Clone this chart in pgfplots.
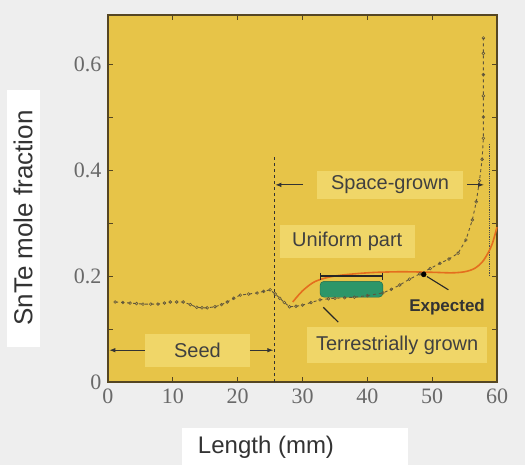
\documentclass[border=0pt]{standalone}
\usepackage{pgfplots}
\pgfplotsset{compat=1.18}
\usepackage{fontspec}
\setmainfont{Liberation Sans}
\newfontfamily\tickfont{Liberation Serif}
\usetikzlibrary{arrows.meta}
\definecolor{bg}{RGB}{238,238,238}
\definecolor{plotbg}{RGB}{231,196,72}
\definecolor{boxy}{RGB}{240,214,104}
\definecolor{frame}{RGB}{85,70,35}
\definecolor{meas}{RGB}{95,85,60}
\definecolor{orng}{RGB}{228,110,30}
\definecolor{grn}{RGB}{45,150,105}
\definecolor{tickgray}{RGB}{105,105,105}
\begin{document}
\begin{tikzpicture}
\fill[bg] (0pt,0pt) rectangle (525pt,-465pt);
\useasboundingbox (0pt,0pt) rectangle (525pt,-465pt);
\fill[white] (7pt,-90pt) rectangle (40pt,-347pt);
\fill[white] (182pt,-428pt) rectangle (408pt,-465pt);
\node[rotate=90, font=\fontsize{26}{28}\selectfont, text=black!80] at (23pt,-218pt) {SnTe mole fraction};
\node[font=\fontsize{24}{26}\selectfont, text=black!80] at (266pt,-447pt) {Length (mm)};
\begin{axis}[
  at={(108pt,-382pt)}, anchor=south west,
  scale only axis, width=389pt, height=367pt,
  xmin=0, xmax=60, ymin=0, ymax=0.6925,
  axis background/.style={fill=plotbg},
  axis line style={frame, line width=1.6pt},
  xtick={0,10,...,60}, ytick={0,0.2,0.4,0.6}, minor ytick={0.1,0.3,0.5},
  tick style={frame, line width=0.8pt},
  major tick length=5pt, minor tick length=5pt,
  tick align=inside, xtick pos=both, ytick pos=both,
  /pgf/number format/assume math mode=true,
  tick label style={font=\tickfont\fontsize{22}{24}\selectfont, text=tickgray},
  yticklabel style={/pgf/number format/fixed, xshift=-3pt},
  xticklabel style={yshift=-3pt},
  clip=false,
]
% lighter label boxes
\node[fill=boxy, minimum width=105pt, minimum height=33pt, inner sep=0pt, font=\fontsize{20}{22}\selectfont, text=black!75] at (axis cs:13.8,0.06) {Seed};
\node[fill=boxy, minimum width=146pt, minimum height=28pt, inner sep=0pt, font=\fontsize{20}{22}\selectfont, text=black!75] at (axis cs:43.5,0.372) {Space-grown};
\node[fill=boxy, minimum width=135pt, minimum height=33pt, inner sep=0pt, font=\fontsize{20}{22}\selectfont, text=black!75] at (axis cs:36.9,0.265) {Uniform part};
\node[fill=boxy, minimum width=180pt, minimum height=36pt, inner sep=0pt, font=\fontsize{20}{22}\selectfont, text=black!75] at (axis cs:44.6,0.070) {Terrestrially grown};
% boundaries
\addplot[black!80, dashed, line width=0.8pt] coordinates {(25.6,0) (25.6,0.43)};
\addplot[black!70, densely dotted, line width=0.8pt] coordinates {(58.9,0.20) (58.9,0.45)};
% seed arrows
\addplot[black!80, line width=0.9pt, -{Latex[length=6pt]}] coordinates {(5.7,0.06) (0.2,0.06)};
\addplot[black!80, line width=0.9pt, -{Latex[length=6pt]}] coordinates {(21.9,0.06) (25.5,0.06)};
% space-grown arrows
\addplot[black!80, line width=0.9pt, -{Latex[length=6pt]}] coordinates {(30.1,0.372) (25.8,0.372)};
\addplot[black!80, line width=0.9pt, -{Latex[length=6pt]}] coordinates {(55.4,0.372) (58.0,0.372)};
% green uniform region
\addplot[fill=grn, draw=grn!70!black, rounded corners=4pt] coordinates {(32.7,0.160) (42.4,0.160) (42.4,0.190) (32.7,0.190)} -- cycle;
% expected curve
\addplot[orng, line width=1.6pt, smooth, tension=0.5] coordinates {(28.5,0.151) (30,0.172) (32,0.190) (35,0.200) (40,0.206) (45,0.208) (50,0.207) (53,0.206) (55,0.208) (56.5,0.214) (57.7,0.226) (58.6,0.243) (59.3,0.262) (60,0.292)};
% uniform bracket
\addplot[black!85, line width=1.2pt, {Bar[width=7pt]}-{Bar[width=7pt]}] coordinates {(32.7,0.200) (42.4,0.200)};
% measured
\addplot[meas, dashed, line width=0.9pt, mark=o, mark size=1.4pt, mark options={solid, fill=boxy, line width=0.6pt}] coordinates {
(1.1,0.151) (2.3,0.150) (3.4,0.149) (4.4,0.148) (5.4,0.147) (6.6,0.147) (7.7,0.147) (8.7,0.149) (9.6,0.151) (10.6,0.151) (11.6,0.151)
(12.7,0.146) (13.7,0.141) (14.5,0.140) (15.3,0.140) (16.5,0.142) (17.5,0.146) (18.4,0.151) (19.4,0.158) (20.4,0.164) (21.7,0.166) (23,0.168)
(24,0.171) (25,0.174) (25.8,0.166) (26.5,0.158) (27.2,0.150) (28,0.142) (29,0.143) (30,0.145) (31.3,0.150) (32.7,0.155) (34,0.157) (35,0.158)
(36.5,0.159) (38,0.160) (40,0.163) (42.4,0.168) (43.7,0.175) (45,0.183) (46.5,0.194) (48.1,0.204) (49.7,0.214) (51.2,0.224) (52.6,0.232) (54,0.243)
(55.2,0.268) (56.2,0.306) (56.8,0.340) (57.3,0.380) (57.7,0.42) (57.9,0.46) (57.9,0.50) (57.9,0.54) (57.9,0.58) (57.9,0.62) (57.9,0.649)};
% expected marker and leaders
\addplot[only marks, mark=*, mark size=2.5pt, black] coordinates {(48.7,0.203)};
\addplot[black!85, line width=1.1pt] coordinates {(49.2,0.199) (52.5,0.174)};
\addplot[black!85, line width=1.1pt] coordinates {(33.2,0.141) (35.5,0.113)};
\node[font=\bfseries\fontsize{17}{19}\selectfont, text=black!80] at (axis cs:52.3,0.142) {Expected};
\end{axis}
\end{tikzpicture}
\end{document}
